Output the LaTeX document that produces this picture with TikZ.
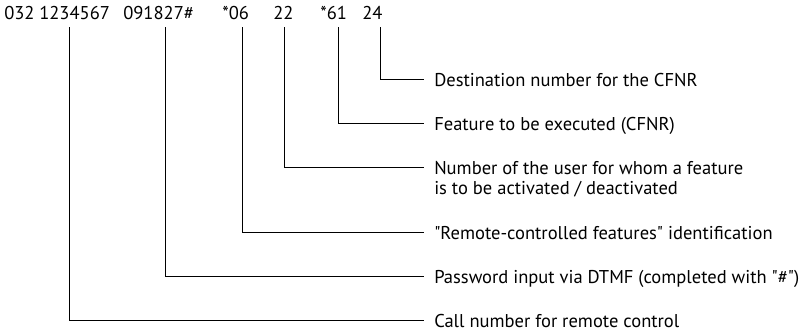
\documentclass[tikz,border=0pt]{standalone}
\usepackage{fontspec}
\setmainfont{PT Sans}
\usetikzlibrary{calc}

\begin{document}
\begin{tikzpicture}[
  x=0.75pt, y=-0.75pt,
  digits/.style={anchor=base west, inner sep=0pt, font=\fontsize{13.9}{15}\selectfont},
  label/.style={anchor=base west, inner xsep=7.5pt, inner ysep=0pt, align=left, font=\fontsize{13.9}{15}\selectfont},
  lead/.style={line width=0.75pt}
]
\useasboundingbox (0,0) rectangle (801,332);

% dialled string
\node[digits] (area) at (4,19) {032};
\node[digits] (call) at (39,19) {1234567};
\node[digits] (pin) at (123,19) {091827\#};
\node[digits] (rcf) at (222,19) {*06};
\node[digits] (user) at (273,19) {22};
\node[digits] (feat) at (320,19) {*61};
\node[digits] (dest) at (362,19) {24};

% upper ends of the leads
\coordinate (tcall) at (69,27);
\coordinate (tpin) at (165,27);
\coordinate (trcf) at (242,27);
\coordinate (tuser) at (284,27);
\coordinate (tfeat) at (338,27);
\coordinate (tdest) at (380,27);

% explanations (base line 7px below the lead)
\node[label] (ldest) at (424,86) {Destination number for the CFNR};
\node[label] (lfeat) at (424,130) {Feature to be executed (CFNR)};
\node[label] (luser) at (424,194) {Number of the user for whom a feature\\is to be activated / deactivated};
\node[label] (lrcf) at (424,239) {\textquotedbl Remote-controlled features\textquotedbl{} identification};
\node[label] (lpin) at (424,283) {Password input via DTMF (completed with \textquotedbl\#\textquotedbl)};
\node[label] (lcall) at (424,327) {Call number for remote control};

\draw[lead] (tdest) |- ($(ldest.base west)+(0,-7)$);
\draw[lead] (tfeat) |- ($(lfeat.base west)+(0,-7)$);
\draw[lead] (tuser) |- ($(luser.base west)+(0,-27)$);
\draw[lead] (trcf) |- ($(lrcf.base west)+(0,-7)$);
\draw[lead] (tpin) |- ($(lpin.base west)+(0,-7)$);
\draw[lead] (tcall) |- ($(lcall.base west)+(0,-7)$);

\end{tikzpicture}
\end{document}
